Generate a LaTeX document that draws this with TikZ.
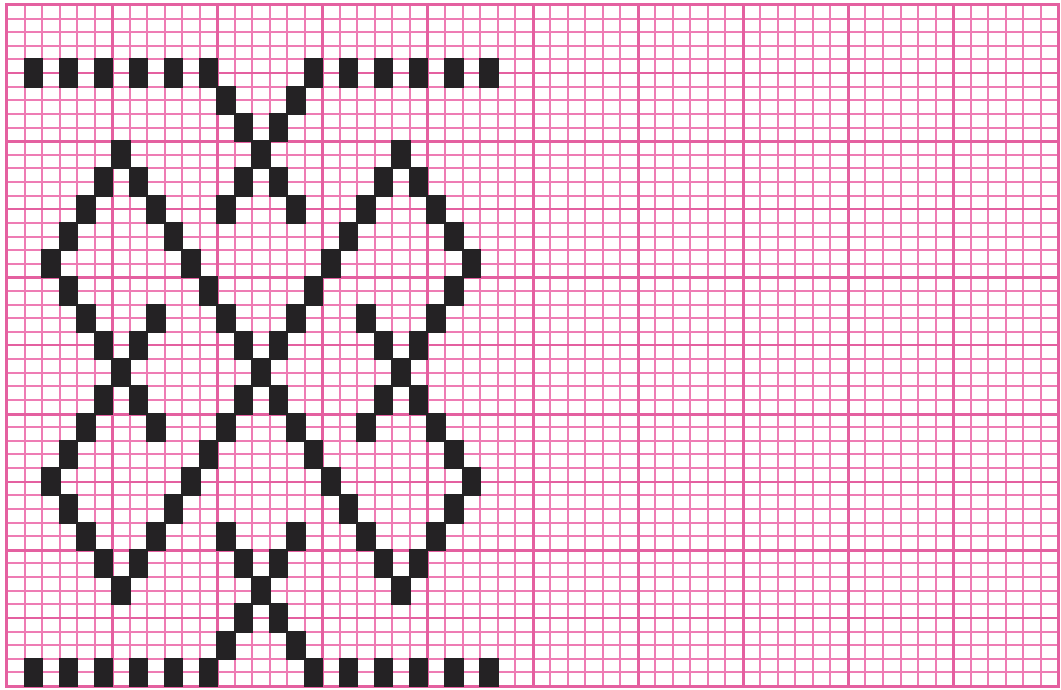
\documentclass[tikz,border=0pt]{standalone}
\definecolor{gridpink}{RGB}{238,124,180}
\definecolor{majorpink}{RGB}{228,96,160}
\definecolor{ink}{RGB}{36,34,36}
\tikzset{
  minorline/.style={draw=gridpink, line width=2pt},
  fiveline/.style={draw=majorpink, line width=2pt},
  majorline/.style={draw=majorpink, line width=3pt},
  frameline/.style={draw=majorpink, line width=3pt},
  stitch/.style={fill=ink}
}
\begin{document}
\begin{tikzpicture}[x=1pt,y=-1pt]
\useasboundingbox (0,0) rectangle (1061,690);
\fill[white] (0,0) rectangle (1061,690);
\def\cw{17.52}
\def\rh{13.62}
\def\xo{7}
\def\yo{5}
% minor grid (snapped to whole pixels)
\foreach \i in {0,...,60} {
  \pgfmathsetmacro{\gx}{round(\xo+\cw*\i)}
  \draw[minorline] (\gx,\yo) -- (\gx,686);
}
\foreach \j in {0,...,50} {
  \pgfmathsetmacro{\gy}{round(\yo+\rh*\j)}
  \draw[minorline] (\xo,\gy) -- (1058,\gy);
}
% every fifth row
\foreach \j in {5,15,...,45} {
  \pgfmathsetmacro{\gy}{round(\yo+\rh*\j)}
  \draw[fiveline] (\xo,\gy) -- (1058,\gy);
}
\foreach \j in {10,20,...,40} {
  \pgfmathsetmacro{\gy}{round(\yo+\rh*\j)+0.5}
  \draw[majorline] (\xo,\gy) -- (1058,\gy);
}
% every sixth column
\foreach \i in {6,12,...,54} {
  \pgfmathsetmacro{\gx}{round(\xo+\cw*\i)+0.5}
  \draw[majorline] (\gx,\yo) -- (\gx,686);
}
% frame
\draw[frameline] (6.5,4.5) rectangle (1058.5,686.5);
% stitches: row pair / columns
\foreach \r/\cs in {
  2/{1,3,5,7,9,11,17,19,21,23,25,27},
  3/{12,16},
  4/{13,15},
  5/{6,14,22},
  6/{5,7,13,15,21,23},
  7/{4,8,12,16,20,24},
  8/{3,9,19,25},
  9/{2,10,18,26},
  10/{3,11,17,25},
  11/{4,8,12,16,20,24},
  12/{5,7,13,15,21,23},
  13/{6,14,22},
  14/{5,7,13,15,21,23},
  15/{4,8,12,16,20,24},
  16/{3,11,17,25},
  17/{2,10,18,26},
  18/{3,9,19,25},
  19/{4,8,12,16,20,24},
  20/{5,7,13,15,21,23},
  21/{6,14,22},
  22/{13,15},
  23/{12,16},
  24/{1,3,5,7,9,11,17,19,21,23,25,27}} {
  \foreach \c in \cs {
    \pgfmathsetmacro{\ax}{round(\xo+\cw*\c)-1}
    \pgfmathsetmacro{\bx}{round(\xo+\cw*(\c+1))+1}
    \pgfmathsetmacro{\ay}{round(\yo+2*\rh*\r)-1}
    \pgfmathsetmacro{\by}{round(\yo+2*\rh*(\r+1))+1}
    \fill[stitch] (\ax,\ay) rectangle (\bx,\by);
  }
}
\end{tikzpicture}
\end{document}
